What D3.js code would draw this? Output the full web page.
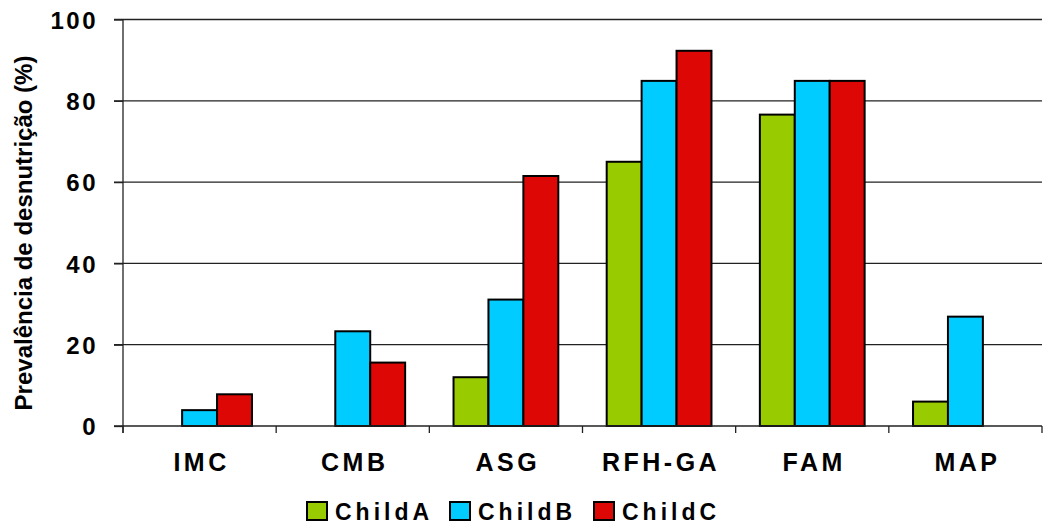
<!DOCTYPE html>
<html>
<head>
<meta charset="utf-8">
<script src="https://cdn.jsdelivr.net/npm/d3@7"></script>
<style>
  html, body { margin: 0; padding: 0; background: #fff; }
  svg { display: block; font-family: "Liberation Sans", Arial, sans-serif; }
</style>
</head>
<body>
<svg id="chart" width="1043" height="524"></svg>
<script>
const categories = ["IMC", "CMB", "ASG", "RFH-GA", "FAM", "MAP"];
const seriesNames = ["ChildA", "ChildB", "ChildC"];
const childA = [0, 0, 12.0, 65.0, 76.6, 6.0];
const childB = [3.9, 23.3, 31.1, 84.9, 84.9, 26.9];
const childC = [7.8, 15.6, 61.5, 92.3, 84.9, 0];
const yTicks = [0, 20, 40, 60, 80, 100];
const colors = ["#99cc00", "#00ccff", "#dd0806"];
const yTitle = "Prevalência de desnutrição (%)";

const seriesValues = [childA, childB, childC];
const svg = d3.select("#chart");

const plotLeft = 123, plotRight = 1042, plotTop = 19.5, plotBottom = 426;

const x0 = d3.scaleBand().domain(categories).range([plotLeft, plotRight]).padding(0);
const bw = x0.bandwidth();
const x1 = d3.scaleBand().domain(seriesNames).range([bw * 0.158, bw * 0.842]).padding(0);
const y = d3.scaleLinear().domain([0, 100]).range([plotBottom, plotTop]);

// gridlines
svg.append("g").selectAll("line").data(yTicks.filter(d => d > 0)).join("line")
  .attr("x1", plotLeft - 9).attr("x2", plotRight)
  .attr("y1", d => y(d)).attr("y2", d => y(d))
  .attr("stroke", "#222").attr("stroke-width", 1.3);

// y axis
const yAxis = d3.axisLeft(y).tickValues(yTicks).tickSize(9).tickFormat(d3.format("d"));
const gy = svg.append("g").attr("transform", `translate(${plotLeft},0)`).call(yAxis);
gy.select(".domain").remove();
gy.selectAll(".tick line").attr("stroke", "#222").attr("stroke-width", 1.3);
gy.selectAll(".tick text")
  .attr("x", -25)
  .attr("font-size", 24).attr("font-weight", "bold").attr("fill", "#000")
  .attr("letter-spacing", "2.5px")
  .attr("dy", "0.36em")
  .attr("font-family", "'Liberation Sans', Arial, sans-serif");
svg.append("line").attr("x1", plotLeft).attr("x2", plotLeft).attr("y1", plotTop).attr("y2", plotBottom + 7)
  .attr("stroke", "#222").attr("stroke-width", 1.3);

// bars
const groups = svg.append("g").selectAll("g").data(categories).join("g")
  .attr("transform", d => `translate(${x0(d)},0)`);
groups.selectAll("rect")
  .data((c, i) => seriesNames.map((s, j) => ({ s, j, v: seriesValues[j][i] })).filter(d => d.v > 0))
  .join("rect")
  .attr("x", d => x1(d.s))
  .attr("width", x1.bandwidth())
  .attr("y", d => y(d.v))
  .attr("height", d => y(0) - y(d.v))
  .attr("fill", d => colors[d.j])
  .attr("stroke", "#000").attr("stroke-width", 2);

// x axis
svg.append("line").attr("x1", plotLeft - 9).attr("x2", plotRight).attr("y1", plotBottom).attr("y2", plotBottom)
  .attr("stroke", "#222").attr("stroke-width", 1.3);
const boundaries = categories.map(c => x0(c)).concat([plotRight]);
svg.append("g").selectAll("line").data(boundaries).join("line")
  .attr("x1", d => d).attr("x2", d => d).attr("y1", plotBottom).attr("y2", plotBottom + 7)
  .attr("stroke", "#222").attr("stroke-width", 1.3);
svg.append("g").selectAll("text").data(categories).join("text")
  .attr("x", d => x0(d) + bw / 2 + 2)
  .attr("y", 471)
  .attr("text-anchor", "middle")
  .attr("font-size", 25).attr("font-weight", "bold")
  .attr("letter-spacing", "3.5px")
  .text(d => d);

// y title
svg.append("text")
  .attr("transform", "translate(32,233) rotate(-90)")
  .attr("text-anchor", "middle")
  .attr("font-size", 24).attr("font-weight", "bold")
  .text(yTitle);

// legend
const legendX = [307, 450, 594];
const leg = svg.append("g").selectAll("g").data(seriesNames).join("g")
  .attr("transform", (d, i) => `translate(${legendX[i]},502)`);
leg.append("rect").attr("width", 20).attr("height", 18)
  .attr("fill", (d, i) => colors[i]).attr("stroke", "#000").attr("stroke-width", 2);
leg.append("text").attr("x", 28).attr("y", 18)
  .attr("font-size", 23).attr("font-weight", "bold")
  .attr("letter-spacing", "4px")
  .text(d => d);
</script>
</body>
</html>
